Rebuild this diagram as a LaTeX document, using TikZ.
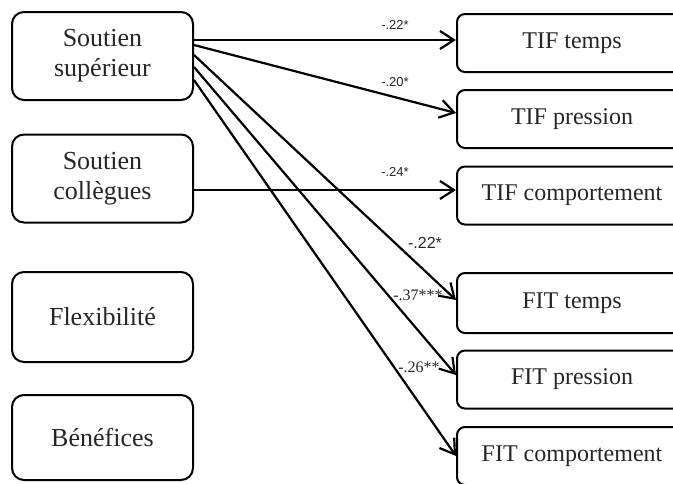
\documentclass[tikz,border=0pt]{standalone}
\usepackage{fontspec}
\setmainfont{Liberation Serif}
\setsansfont{Liberation Sans}
\usepackage{tikz}
\usetikzlibrary{arrows.meta}

\begin{document}
\begin{tikzpicture}[x=0.5pt,y=-0.5pt, every node/.style={text=black!85},
  leftbox/.style={draw, rounded corners=6pt, align=center, minimum width=90.5pt, minimum height=44pt, inner sep=0pt, line width=1pt, font=\fontsize{13}{15}\selectfont},
  rightbox/.style={draw, rounded corners=4pt, minimum width=115pt, minimum height=29pt, inner sep=0pt, line width=1pt, font=\fontsize{12}{14}\selectfont},
  line/.style={-{Straight Barb[length=7pt,width=9pt]}, line width=1.1pt},
  coef/.style={font=\sffamily\fontsize{6.5}{8}\selectfont, inner sep=0pt},
  coefsans/.style={font=\sffamily\fontsize{8}{10}\selectfont, inner sep=0pt},
  coefserif/.style={font=\fontsize{8}{10}\selectfont, inner sep=0pt}]
  \clip (0,0) rectangle (673,483);
  % predicteurs
  \node[leftbox] (sup) at (102.5,56) {Soutien\\supérieur};
  \node[leftbox] (col) at (102.5,178.5) {Soutien\\collègues};
  \node[leftbox,minimum height=45pt] (flex) at (102.5,317) {Flexibilité};
  \node[leftbox,minimum height=42.5pt] (ben) at (102.5,437.5) {Bénéfices};
  % conflits
  \node[rightbox] (tift) at (572,43) {TIF temps};
  \node[rightbox] (tifp) at (572,119) {TIF pression};
  \node[rightbox] (tifc) at (572,195.5) {TIF comportement};
  \node[rightbox,minimum height=30pt] (fitt) at (572,303) {FIT temps};
  \node[rightbox] (fitp) at (572,379.5) {FIT pression};
  \node[rightbox] (fitc) at (572,456) {FIT comportement};
  % liens
  \draw[line] ([yshift=8pt]sup.east) -- ([yshift=1.5pt]tift.west);
  \draw[line] ([yshift=5.5pt]sup.east) -- ([yshift=3pt]tifp.west);
  \draw[line] ([yshift=-5.75pt]col.east) -- ([yshift=2.75pt]tifc.west);
  \draw[line] ([yshift=0.5pt]sup.east) -- ([yshift=1.5pt]fitt.west);
  \draw[line] ([yshift=-5.5pt]sup.east) -- ([yshift=2.25pt]fitp.west);
  \draw[line] ([yshift=-12pt]sup.east) -- (fitc.west);
  % coefficients
  \node[coef] (c1) at (395,25) {-.22*};
  \node[coef] (c2) at (395,82) {-.20*};
  \node[coef] (c3) at (395,172) {-.24*};
  \node[coefsans] (c4) at (425,243) {-.22*};
  \node[coefserif] (c5) at (418,295) {-.37***};
  \node[coefserif] (c6) at (419,367) {-.26**};
\end{tikzpicture}
\end{document}
